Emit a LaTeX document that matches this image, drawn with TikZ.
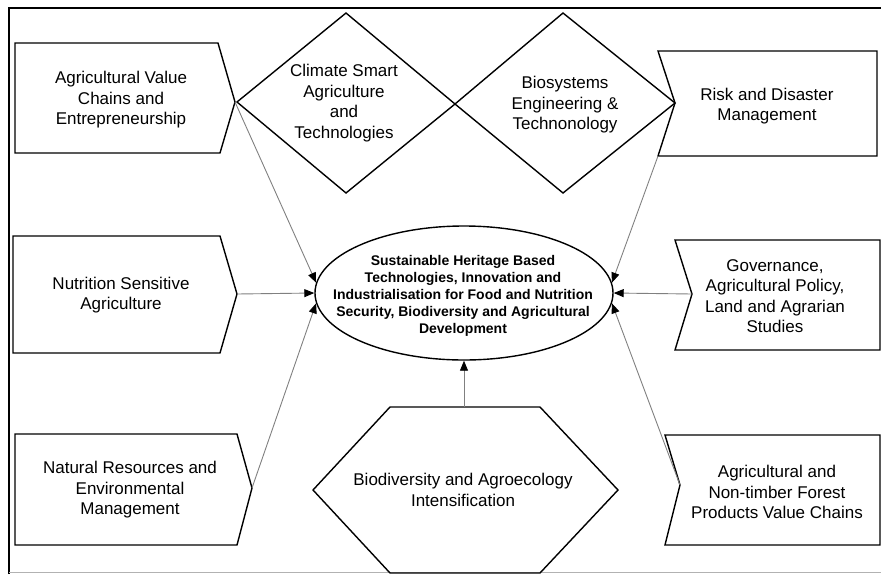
\documentclass[tikz,border=0pt]{standalone}
\usepackage{fontspec}
\setmainfont{Liberation Sans}
\usetikzlibrary{arrows.meta,shapes.geometric}
\begin{document}
\begin{tikzpicture}[x=1pt,y=-1pt,
  outline/.style={draw=black,line width=1.4pt,line join=miter},
  lbl/.style={align=center,inner sep=0pt,font=\fontsize{17}{20.5}\selectfont},
  hubtxt/.style={align=center,inner sep=0pt,font=\fontsize{14}{17}\selectfont\bfseries},
  conn/.style={draw=black!50,line width=0.9pt,-{Triangle[length=10pt,width=8pt,fill=black,color=black]}}
]
\useasboundingbox (0,0) rectangle (881,574);
% frame
\draw[line width=1.3pt] (9,574) -- (9,8) -- (881,8);
\draw[black!30,line width=0.8pt] (9,572) -- (881,572);

% left boxes
\draw[outline] (15,43) -- (218,43) -- (235,102) coordinate (avtip) -- (220,153) -- (15,153) -- cycle;
\draw[outline] (13,236) -- (220,236) -- (237,294) coordinate (nstip) -- (220,353) -- (13,353) -- cycle;
\draw[outline] (15,434) -- (237,434) -- (252,488) coordinate (nrtip) -- (237,545) -- (15,545) -- cycle;

% right boxes
\draw[outline] (658,51) -- (877,51) -- (877,156) -- (658,156) coordinate (rdcorner) -- (675,103) -- cycle;
\draw[outline] (675,240) -- (880,240) -- (880,350) -- (675,350) -- (692,294) coordinate (govtip) -- cycle;
\draw[outline] (665,435) -- (880,435) -- (880,545) -- (665,545) -- (680,485) coordinate (nttip) -- cycle;

% diamonds
\draw[outline] (237,102) -- (346,13) -- (455,104) -- (346,193) -- cycle;
\draw[outline] (455,104) -- (563,13) -- (675,103) -- (563,193) -- cycle;

% hexagon
\draw[outline] (313,490) -- (390,407) -- (540,407) -- (618,490) -- (540,573) -- (390,573) -- cycle;
\coordinate (hextop) at (464,407);

% central ellipse
\node[draw,ellipse,line width=1.4pt,minimum width=298pt,minimum height=134pt,inner sep=0pt] (hub) at (464,293) {};
\node[hubtxt] (hubt) at (463,296) {Sustainable Heritage Based\\Technologies, Innovation and\\Industrialisation for Food and Nutrition\\Security, Biodiversity and Agricultural\\Development};

% labels
\node[lbl] (avt) at (121,100) {Agricultural Value\\Chains and\\Entrepreneurship};
\node[lbl] (cst) at (344,103) {Climate Smart\\Agriculture\\and\\Technologies};
\node[lbl] (bet) at (565,105) {Biosystems\\Engineering \&\\Technonology};
\node[lbl] (rdt) at (767,106) {Risk and Disaster\\Management};
\node[lbl] (nst) at (121,295) {Nutrition Sensitive\\Agriculture};
\node[lbl] (nrt) at (130,490) {Natural Resources and\\Environmental\\Management};
\node[lbl] (govt) at (775,296) {Governance,\\Agricultural Policy,\\Land and Agrarian\\Studies};
\node[lbl] (ntt) at (777,492) {Agricultural and\\Non-timber Forest\\Products Value Chains};
\node[lbl] (hext) at (463,490) {Biodiversity and Agroecology\\Intensification};

% connectors
\draw[conn] (avtip) -- (hub.176);
\draw[conn] (nstip) -- (hub.west);
\draw[conn] (nrtip) -- (hub.184);
\draw[conn] (rdcorner) -- (hub.4);
\draw[conn] (govtip) -- (hub.east);
\draw[conn] (nttip) -- (hub.-4);
\draw[conn] (hextop) -- (hub.south);
\end{tikzpicture}
\end{document}
